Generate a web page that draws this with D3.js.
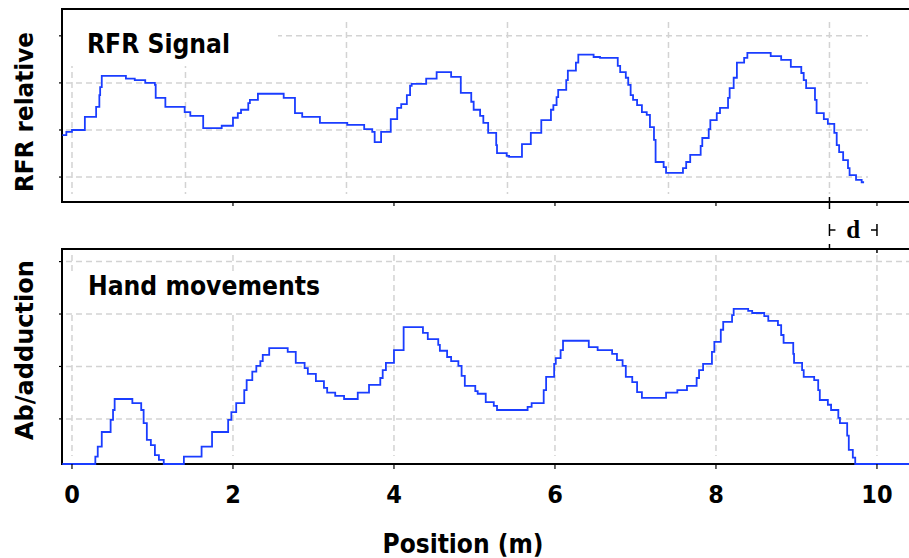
<!DOCTYPE html>
<html>
<head>
<meta charset="utf-8">
<script src="https://cdn.jsdelivr.net/npm/d3@7"></script>
<style>
  body { margin: 0; background: #fff; }
  svg { display: block; }
  text { font-family: "DejaVu Sans", sans-serif; font-weight: bold; font-stretch: condensed; fill: #000; }
</style>
</head>
<body>
<div id="chart"></div>
<script>
// RFR signal, step series (position in m, relative value)
const rfrPos = [-0.12, -0.07, 0.00, 0.16, 0.30, 0.34, 0.35, 0.37, 0.67, 0.78, 0.91, 1.03, 1.04, 1.16, 1.40, 1.47,
  1.63, 1.86, 2.00, 2.06, 2.10, 2.19, 2.21, 2.31, 2.63, 2.77, 2.86, 3.08, 3.42, 3.63, 3.73, 3.76, 3.84, 3.96,
  4.04, 4.09, 4.16, 4.20, 4.22, 4.40, 4.53, 4.71, 4.83, 4.96, 4.99, 5.07, 5.11, 5.17, 5.27, 5.28, 5.40, 5.43,
  5.59, 5.70, 5.83, 5.95, 5.98, 6.02, 6.04, 6.14, 6.16, 6.26, 6.29, 6.48, 6.56, 6.78, 6.81, 6.88, 6.91, 6.94,
  6.97, 7.02, 7.08, 7.14, 7.18, 7.23, 7.25, 7.35, 7.38, 7.59, 7.63, 7.68, 7.81, 7.83, 7.91, 7.93, 8.01, 8.05,
  8.15, 8.17, 8.22, 8.26, 8.35, 8.39, 8.68, 8.81, 8.93, 9.06, 9.09, 9.12, 9.23, 9.25, 9.34, 9.39, 9.47, 9.50,
  9.53, 9.58, 9.64, 9.66, 9.74, 9.81, 9.84];
const rfrVal = [1.89, 1.96, 2.00, 2.28, 2.49, 2.74, 2.91, 3.15, 3.09, 3.06, 3.00, 2.96, 2.68, 2.49, 2.38, 2.30,
  2.04, 2.09, 2.26, 2.36, 2.43, 2.57, 2.64, 2.77, 2.68, 2.36, 2.28, 2.15, 2.11, 2.02, 1.96, 1.74, 1.96, 2.23,
  2.47, 2.55, 2.74, 2.94, 2.98, 3.09, 3.23, 3.13, 2.79, 2.60, 2.43, 2.30, 2.15, 1.94, 1.68, 1.51, 1.45, 1.43,
  1.70, 1.94, 2.21, 2.43, 2.53, 2.70, 2.85, 3.06, 3.26, 3.43, 3.60, 3.55, 3.53, 3.36, 3.23, 3.11, 2.96, 2.74,
  2.64, 2.53, 2.38, 2.32, 2.06, 1.79, 1.32, 1.21, 1.09, 1.19, 1.32, 1.47, 1.66, 1.83, 2.02, 2.21, 2.36, 2.47,
  2.68, 2.89, 3.11, 3.43, 3.53, 3.64, 3.57, 3.49, 3.34, 3.21, 3.06, 2.89, 2.64, 2.36, 2.23, 2.13, 1.94, 1.68,
  1.53, 1.36, 1.19, 1.04, 0.94, 0.89, 0.89];

// Hand ab/adduction, step series
const handPos = [-0.12, 0.29, 0.32, 0.37, 0.48, 0.51, 0.53, 0.75, 0.86, 0.89, 0.93, 0.98, 1.03, 1.08, 1.14, 1.39,
  1.61, 1.74, 1.94, 1.98, 2.04, 2.14, 2.17, 2.24, 2.29, 2.34, 2.37, 2.45, 2.68, 2.78, 2.89, 2.93, 3.03, 3.13,
  3.17, 3.27, 3.38, 3.55, 3.69, 3.83, 3.86, 3.90, 4.00, 4.12, 4.36, 4.42, 4.55, 4.57, 4.66, 4.71, 4.80, 4.84,
  4.88, 5.01, 5.04, 5.14, 5.24, 5.28, 5.66, 5.71, 5.86, 5.89, 5.99, 6.01, 6.07, 6.10, 6.42, 6.53, 6.71, 6.77,
  6.84, 6.88, 6.96, 7.02, 7.08, 7.38, 7.52, 7.64, 7.76, 7.79, 7.84, 7.95, 7.98, 8.06, 8.09, 8.20, 8.22, 8.40,
  8.45, 8.60, 8.65, 8.77, 8.81, 8.84, 8.96, 8.97, 9.07, 9.09, 9.22, 9.27, 9.29, 9.39, 9.43, 9.52, 9.54, 9.63,
  9.65, 9.70, 9.73, 10.40];
const handVal = [0.14, 0.28, 0.47, 0.75, 0.98, 1.17, 1.38, 1.30, 1.17, 0.92, 0.60, 0.50, 0.31, 0.22, 0.14, 0.28,
  0.47, 0.75, 0.98, 1.13, 1.30, 1.55, 1.74, 1.90, 2.01, 2.10, 2.22, 2.35, 2.28, 2.07, 1.97, 1.86, 1.72, 1.59,
  1.50, 1.44, 1.38, 1.50, 1.65, 1.78, 1.93, 2.07, 2.31, 2.75, 2.64, 2.52, 2.41, 2.30, 2.18, 2.10, 2.01, 1.82,
  1.63, 1.53, 1.48, 1.32, 1.25, 1.17, 1.23, 1.30, 1.55, 1.80, 2.05, 2.16, 2.31, 2.49, 2.37, 2.31, 2.24, 2.12,
  2.01, 1.80, 1.70, 1.51, 1.40, 1.50, 1.55, 1.63, 1.78, 1.93, 2.05, 2.28, 2.47, 2.70, 2.85, 2.98, 3.10, 3.06,
  3.02, 2.96, 2.87, 2.79, 2.60, 2.45, 2.24, 2.07, 1.93, 1.80, 1.74, 1.55, 1.36, 1.27, 1.17, 1.02, 0.92, 0.68,
  0.41, 0.26, 0.14, 0.14];

const xTicks = [0, 2, 4, 6, 8, 10];
const yGrid = [1, 2, 3, 4];
const shiftD = 0.59; // lag between the two records

const W = 909, H = 558;
const svg = d3.select("#chart").append("svg").attr("width", W).attr("height", H);

const x = d3.scaleLinear().domain([-0.124, 10.398]).range([62, 909]);
const yTop = d3.scaleLinear().domain([0.47, 4.57]).range([202, 9]);
const yBot = d3.scaleLinear().domain([0.14, 4.24]).range([464, 249]);

const gridColor = "#d3d3d3";
const blue = "#1a3dff";

function panel(y, bottom, vGrid, vTop, hGridEnd, box) {
  const g = svg.append("g");
  // horizontal grid
  g.selectAll(".hg").data(yGrid).join("line")
    .attr("x1", 66).attr("x2", hGridEnd)
    .attr("y1", d => y(d)).attr("y2", d => y(d))
    .attr("stroke", gridColor).attr("stroke-width", 1.5).attr("stroke-dasharray", "6,4");
  // vertical grid
  g.selectAll(".vg").data(vGrid).join("line")
    .attr("x1", d => x(d)).attr("x2", d => x(d))
    .attr("y1", vTop).attr("y2", bottom - 8)
    .attr("stroke", gridColor).attr("stroke-width", 1.5).attr("stroke-dasharray", "6,4");
  // white box behind the title
  g.append("rect").attr("x", 63).attr("y", box[0]).attr("width", box[2]).attr("height", box[1])
    .attr("fill", "#fff");
  // left ticks
  g.selectAll(".lt").data(yGrid).join("line")
    .attr("x1", 59).attr("x2", 62).attr("y1", d => y(d)).attr("y2", d => y(d))
    .attr("stroke", "#000").attr("stroke-width", 1.2);
  return g;
}

panel(yTop, 202, [0].concat(xTicks.slice(1).map(d => d - shiftD)), 22, 868, [20, 46, 215]);
panel(yBot, 464, xTicks, 255, 909, [272, 41, 268]);

// frames
function frame(top, bottom) {
  svg.append("path")
    .attr("d", `M910,${top}H62V${bottom}H910`)
    .attr("fill", "none").attr("stroke", "#000").attr("stroke-width", 2);
}
frame(9, 202);
frame(249, 464);

// lines, drawn over the frames
const lineTop = d3.line().x((d, i) => x(rfrPos[i])).y(d => yTop(d)).curve(d3.curveStepAfter);
const lineBot = d3.line().x((d, i) => x(handPos[i])).y(d => yBot(d)).curve(d3.curveStepAfter);
svg.append("path").datum(rfrVal).attr("d", lineTop)
  .attr("fill", "none").attr("stroke", blue).attr("stroke-width", 1.8);
svg.append("path").datum(handVal).attr("d", lineBot)
  .attr("fill", "none").attr("stroke", blue).attr("stroke-width", 1.8);

// x ticks
svg.selectAll(".tt").data(xTicks.slice(1)).join("line")
  .attr("x1", d => x(d)).attr("x2", d => x(d)).attr("y1", 202).attr("y2", 206)
  .attr("stroke", "#000").attr("stroke-width", 1.2);
svg.selectAll(".bt").data(xTicks).join("line")
  .attr("x1", d => x(d)).attr("x2", d => x(d)).attr("y1", 464).attr("y2", 469)
  .attr("stroke", "#000").attr("stroke-width", 1.2);
svg.selectAll(".xl").data(xTicks).join("text")
  .attr("x", d => x(d)).attr("y", 503).attr("text-anchor", "middle")
  .attr("font-size", 25).text(d => d);

// d marker
const dA = x(10 - shiftD), dB = x(10);
svg.append("line").attr("x1", dA).attr("x2", dA).attr("y1", 197).attr("y2", 209).attr("stroke", "#000").attr("stroke-width", 1.5);
svg.append("line").attr("x1", dA).attr("x2", dA).attr("y1", 244).attr("y2", 249).attr("stroke", "#000").attr("stroke-width", 1.5);
svg.append("line").attr("x1", dB).attr("x2", dB).attr("y1", 249).attr("y2", 253).attr("stroke", "#000").attr("stroke-width", 1.5);
svg.append("path").attr("d", `M${dA},224V236M${dA},230h6M${dB},224V236M${dB},230h-6`)
  .attr("fill", "none").attr("stroke", "#000").attr("stroke-width", 1.5);
svg.append("text").attr("x", (dA + dB) / 2).attr("y", 238).attr("text-anchor", "middle")
  .style("font-family", "'Liberation Serif', serif").style("font-stretch", "normal")
  .attr("font-size", 25).text("d");

// titles
svg.append("text").attr("x", 87).attr("y", 53).attr("font-size", 27)
  .attr("textLength", 143).attr("lengthAdjust", "spacingAndGlyphs").text("RFR Signal");
svg.append("text").attr("x", 88).attr("y", 295).attr("font-size", 27)
  .attr("textLength", 232).attr("lengthAdjust", "spacingAndGlyphs").text("Hand movements");

// axis labels
svg.append("text").attr("transform", "translate(33,112) rotate(-90)").attr("text-anchor", "middle")
  .attr("font-size", 25).attr("textLength", 160).attr("lengthAdjust", "spacingAndGlyphs").text("RFR relative");
svg.append("text").attr("transform", "translate(33,350) rotate(-90)").attr("text-anchor", "middle")
  .attr("font-size", 25).attr("textLength", 180).attr("lengthAdjust", "spacingAndGlyphs").text("Ab/adduction");
svg.append("text").attr("x", 463).attr("y", 553).attr("text-anchor", "middle")
  .attr("font-size", 26).attr("textLength", 161).attr("lengthAdjust", "spacingAndGlyphs").text("Position (m)");
</script>
</body>
</html>
